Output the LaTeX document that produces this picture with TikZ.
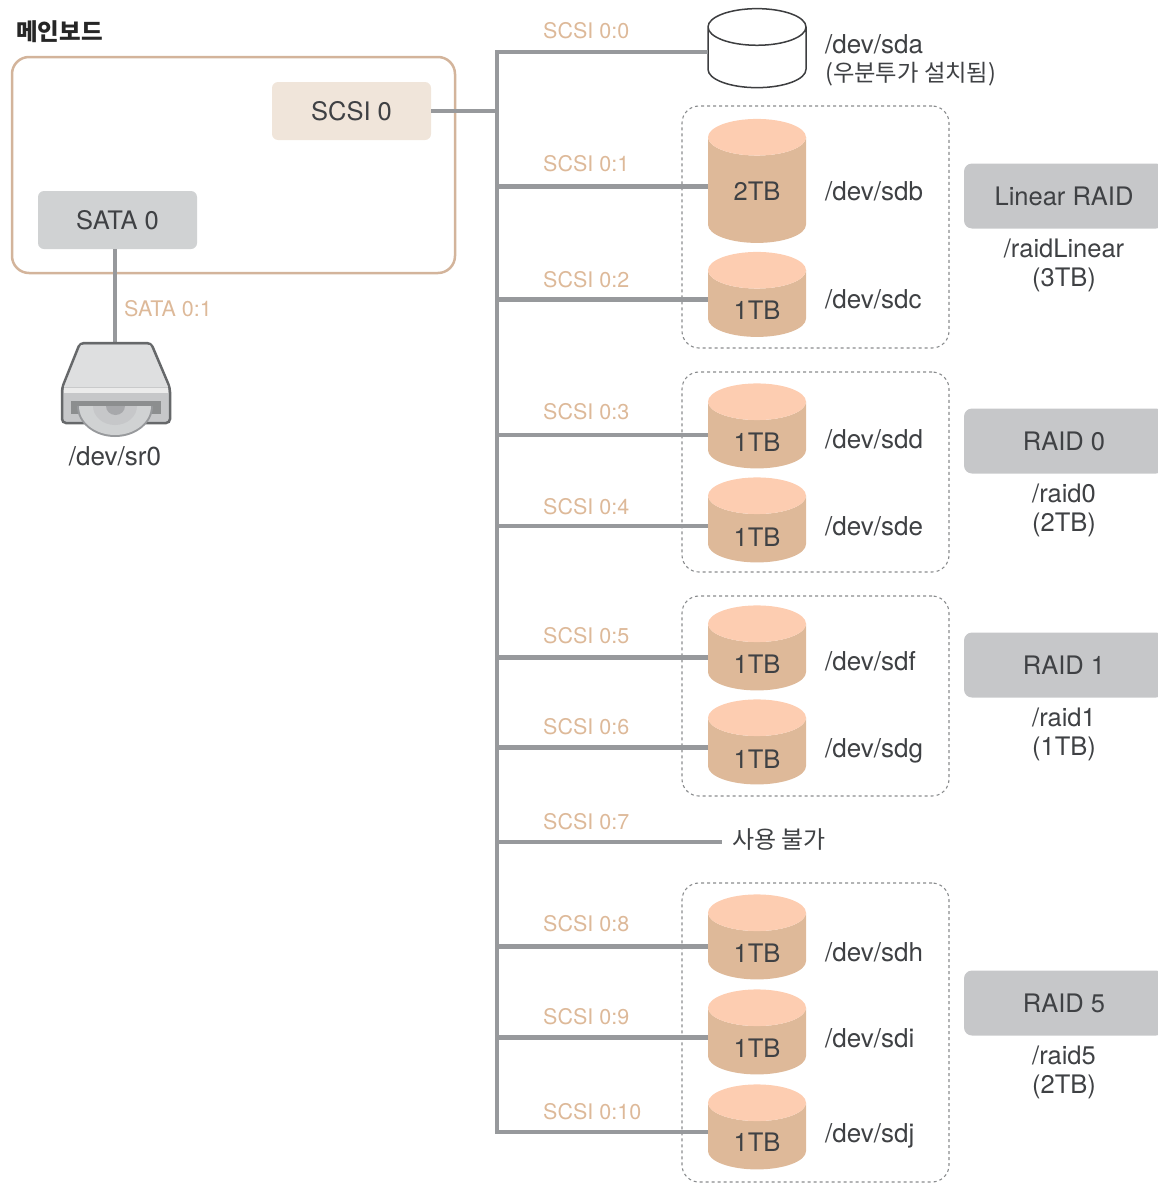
\documentclass[tikz,border=0pt]{standalone}
\usepackage{fontspec}
\usepackage{xcolor}
\usepackage{tikz}
\setmainfont{TeX Gyre Heros}
\newfontfamily\krfont{Noto Sans CJK KR}
\usetikzlibrary{shapes.geometric, positioning, calc}
\definecolor{busgray}{HTML}{97999C}
\definecolor{tanline}{HTML}{D3B49B}
\definecolor{tanlabel}{HTML}{DDB999}
\definecolor{scsifill}{HTML}{F0E5DA}
\definecolor{satafill}{HTML}{D0D2D3}
\definecolor{raidfill}{HTML}{C6C7C9}
\definecolor{diskbody}{HTML}{DEB999}
\definecolor{disktop}{HTML}{FDCDB1}
\definecolor{textmain}{HTML}{3F4144}
\definecolor{dashgray}{HTML}{8A8C8E}
\definecolor{drivegray}{HTML}{66686A}
\tikzstyle{boardbox} = [rectangle, rounded corners=17pt, draw=tanline, line width=2.5pt, outer sep=0pt, anchor=north west, minimum width=443pt, minimum height=216pt]
\tikzstyle{port} = [rectangle, rounded corners=6pt, minimum width=159pt, minimum height=58pt, text=textmain, font=\fontsize{25.5}{28}\selectfont]
\tikzstyle{groupbox} = [rectangle, rounded corners=17pt, draw=dashgray, dashed, line width=1.1pt, outer sep=0pt, anchor=north west, minimum width=267pt]
\tikzstyle{raidbox} = [rectangle, rounded corners=8pt, fill=raidfill, minimum width=200pt, minimum height=65pt, text=textmain, font=\fontsize{25.5}{28}\selectfont]
\tikzstyle{raidnote} = [align=center, text=textmain, inner sep=0pt, font=\fontsize{25.5}{29}\selectfont]
\tikzstyle{disk} = [cylinder, shape border rotate=90, shape aspect=5.5, minimum width=98pt, inner sep=3.33pt, outer sep=0pt, cylinder uses custom fill, cylinder body fill=diskbody, cylinder end fill=disktop]
\tikzstyle{sizelabel} = [text=textmain, inner sep=0pt, font=\fontsize{25.5}{28}\selectfont]
\tikzstyle{devlabel} = [text=textmain, inner sep=0pt, anchor=west, text height=18pt, text depth=6pt, yshift=-3pt, font=\fontsize{26}{28}\selectfont]
\tikzstyle{devnote} = [text=textmain, inner sep=0pt, anchor=west, align=left, font=\fontsize{26}{28}\selectfont]
\tikzstyle{scsilabel} = [text=tanlabel, inner sep=0pt, anchor=west, yshift=-0.7pt, font=\fontsize{21.5}{24}\selectfont]
\tikzstyle{busline} = [draw=busgray, line width=4.5pt]

\begin{document}
\begin{tikzpicture}[x=1pt, y=-1pt]
    \useasboundingbox (0,0) rectangle (1158,1183);

    % dashed groups
    \node[groupbox, minimum height=242pt] (groupb) at (682,106) {};
    \node[groupbox, minimum height=200pt] (groupd) at (682,372) {};
    \node[groupbox, minimum height=200pt] (groupf) at (682,596) {};
    \node[groupbox, minimum height=299pt] (grouph) at (682,883) {};

    % main board
    \node[anchor=west, inner sep=0pt, text=black!85, font=\krfont\bfseries\fontsize{23.5}{26}\selectfont] (boardtitle) at (16,32) {메인보드};
    \node[boardbox] (board) at (12,57) {};
    \node[port, fill=scsifill] (scsi) at (351.5,111) {SCSI 0};
    \node[port, fill=satafill] (sata) at (117.5,220) {SATA 0};

    % bus points
    \coordinate (bus0) at (497,52);
    \coordinate (busport) at (497,111);
    \coordinate (bus1) at (497,186.5);
    \coordinate (bus2) at (497,299.5);
    \coordinate (bus3) at (497,435);
    \coordinate (bus4) at (497,526);
    \coordinate (bus5) at (497,657.5);
    \coordinate (bus6) at (497,747.5);
    \coordinate (bus7) at (497,842);
    \coordinate (bus8) at (497,946.5);
    \coordinate (bus9) at (497,1037.5);
    \coordinate (bus10) at (497,1132);

    % disks
    \node[disk, cylinder body fill=white, cylinder end fill=white, draw=drivegray!60!black, line width=1.5pt, minimum height=79pt] (sda) at (757,61) {};
    \node[disk, minimum height=124pt] (sdb) at (757,193.5) {};
    \node[disk, minimum height=85pt, below=9pt of sdb] (sdc) {};
    \node[disk, minimum height=85pt] (sdd) at (757,438.5) {};
    \node[disk, minimum height=85pt, below=9pt of sdd] (sde) {};
    \node[disk, minimum height=85pt] (sdf) at (757,660.5) {};
    \node[disk, minimum height=85pt, below=9pt of sdf] (sdg) {};
    \node[disk, minimum height=85pt] (sdh) at (757,949.5) {};
    \node[disk, minimum height=85pt, below=10pt of sdh] (sdi) {};
    \node[disk, minimum height=85pt, below=10pt of sdi] (sdj) {};

    % connectors
    \draw[busline, line cap=rect] (bus0) -- (bus10);
    \draw[busline] (bus0) -- (bus0 -| sda.west);
    \draw[busline] (scsi) -- (busport);
    \draw[busline] (bus1) -- (bus1 -| sdb.west);
    \draw[busline] (bus2) -- (bus2 -| sdc.west);
    \draw[busline] (bus3) -- (bus3 -| sdd.west);
    \draw[busline] (bus4) -- (bus4 -| sde.west);
    \draw[busline] (bus5) -- (bus5 -| sdf.west);
    \draw[busline] (bus6) -- (bus6 -| sdg.west);
    \coordinate (busend) at (722,842);
    \draw[busline] (bus7) -- (busend);
    \draw[busline] (bus8) -- (bus8 -| sdh.west);
    \draw[busline] (bus9) -- (bus9 -| sdi.west);
    \draw[busline] (bus10) -- (bus10 -| sdj.west);

    \node[sizelabel] (sizeb) at (757,191) {2TB};
    \node[sizelabel] (sizec) at (757,310) {1TB};
    \node[sizelabel] (sized) at (757,442) {1TB};
    \node[sizelabel] (sizee) at (757,537) {1TB};
    \node[sizelabel] (sizef) at (757,664) {1TB};
    \node[sizelabel] (sizeg) at (757,759) {1TB};
    \node[sizelabel] (sizeh) at (757,953) {1TB};
    \node[sizelabel] (sizei) at (757,1048) {1TB};
    \node[sizelabel] (sizej) at (757,1142) {1TB};

    % device names
    \node[devnote] (sdalabel) at (825,60) {/dev/sda\\{\krfont\fontsize{23.3}{28}\selectfont (우분투가 설치됨)}};
    \node[devlabel] (sdblabel) at (825,191) {/dev/sdb};
    \node[devlabel] (sdclabel) at (825,299) {/dev/sdc};
    \node[devlabel] (sddlabel) at (825,439) {/dev/sdd};
    \node[devlabel] (sdelabel) at (825,526) {/dev/sde};
    \node[devlabel] (sdflabel) at (825,661) {/dev/sdf};
    \node[devlabel] (sdglabel) at (825,748) {/dev/sdg};
    \node[devlabel] (sdhlabel) at (825,952) {/dev/sdh};
    \node[devlabel] (sdilabel) at (825,1038) {/dev/sdi};
    \node[devlabel] (sdjlabel) at (825,1133) {/dev/sdj};
    \node[devnote, font=\krfont\fontsize{24}{28}\selectfont] (unusable) at (732,840) {사용 불가};

    % raid boxes
    \node[raidbox] (linear) at (1064,196) {Linear RAID};
    \node[raidbox] (raidzero) at (1064,441) {RAID 0};
    \node[raidbox] (raidone) at (1064,665) {RAID 1};
    \node[raidbox] (raidfive) at (1064,1003) {RAID 5};
    \node[raidnote, below=10pt of linear] (linearnote) {/raidLinear\\(3TB)};
    \node[raidnote, below=10pt of raidzero] (zeronote) {/raid0\\(2TB)};
    \node[raidnote, below=10pt of raidone] (onenote) {/raid1\\(1TB)};
    \node[raidnote, below=10pt of raidfive] (fivenote) {/raid5\\(2TB)};

    % scsi ids
    \node[scsilabel] (id0) at (543,30) {SCSI 0:0};
    \node[scsilabel] (id1) at (543,163) {SCSI 0:1};
    \node[scsilabel] (id2) at (543,279) {SCSI 0:2};
    \node[scsilabel] (id3) at (543,411) {SCSI 0:3};
    \node[scsilabel] (id4) at (543,506) {SCSI 0:4};
    \node[scsilabel] (id5) at (543,635) {SCSI 0:5};
    \node[scsilabel] (id6) at (543,726) {SCSI 0:6};
    \node[scsilabel] (id7) at (543,821) {SCSI 0:7};
    \node[scsilabel] (id8) at (543,923) {SCSI 0:8};
    \node[scsilabel] (id9) at (543,1016) {SCSI 0:9};
    \node[scsilabel] (id10) at (543,1111) {SCSI 0:10};

    % optical drive
    \coordinate (drive) at (115,342);
    \draw[busline] (drive |- sata.south) -- (drive);
    \node[scsilabel] (sataid) at (124,308) {SATA 0:1};
    \draw[rounded corners=4pt, draw=drivegray, line width=2.5pt, fill=raidfill] (62,423) -- (62,388) -- (80,343) -- (151,343) -- (170,388) -- (170,423) -- cycle;
    \fill[satafill!70!white] (81,345) -- (150,345) -- (168,387) -- (64,387) -- cycle;
    \fill[white!92!black] (64,388) rectangle (168,393);
    \fill[drivegray!75!white] (71,401) rectangle (161,414);
    \fill[busgray] (77,406) arc[start angle=180, end angle=0, x radius=38, y radius=31] -- cycle;
    \fill[satafill] (79,406) arc[start angle=180, end angle=0, x radius=36, y radius=29] -- cycle;
    \fill[raidfill] (93,406) arc[start angle=180, end angle=0, x radius=22, y radius=19] -- cycle;
    \fill[busgray!85!white] (106,406) arc[start angle=180, end angle=0, x radius=9.5, y radius=9] -- cycle;
    \node[devnote, anchor=center] (sr0) at (115,456) {/dev/sr0};
\end{tikzpicture}
\end{document}
